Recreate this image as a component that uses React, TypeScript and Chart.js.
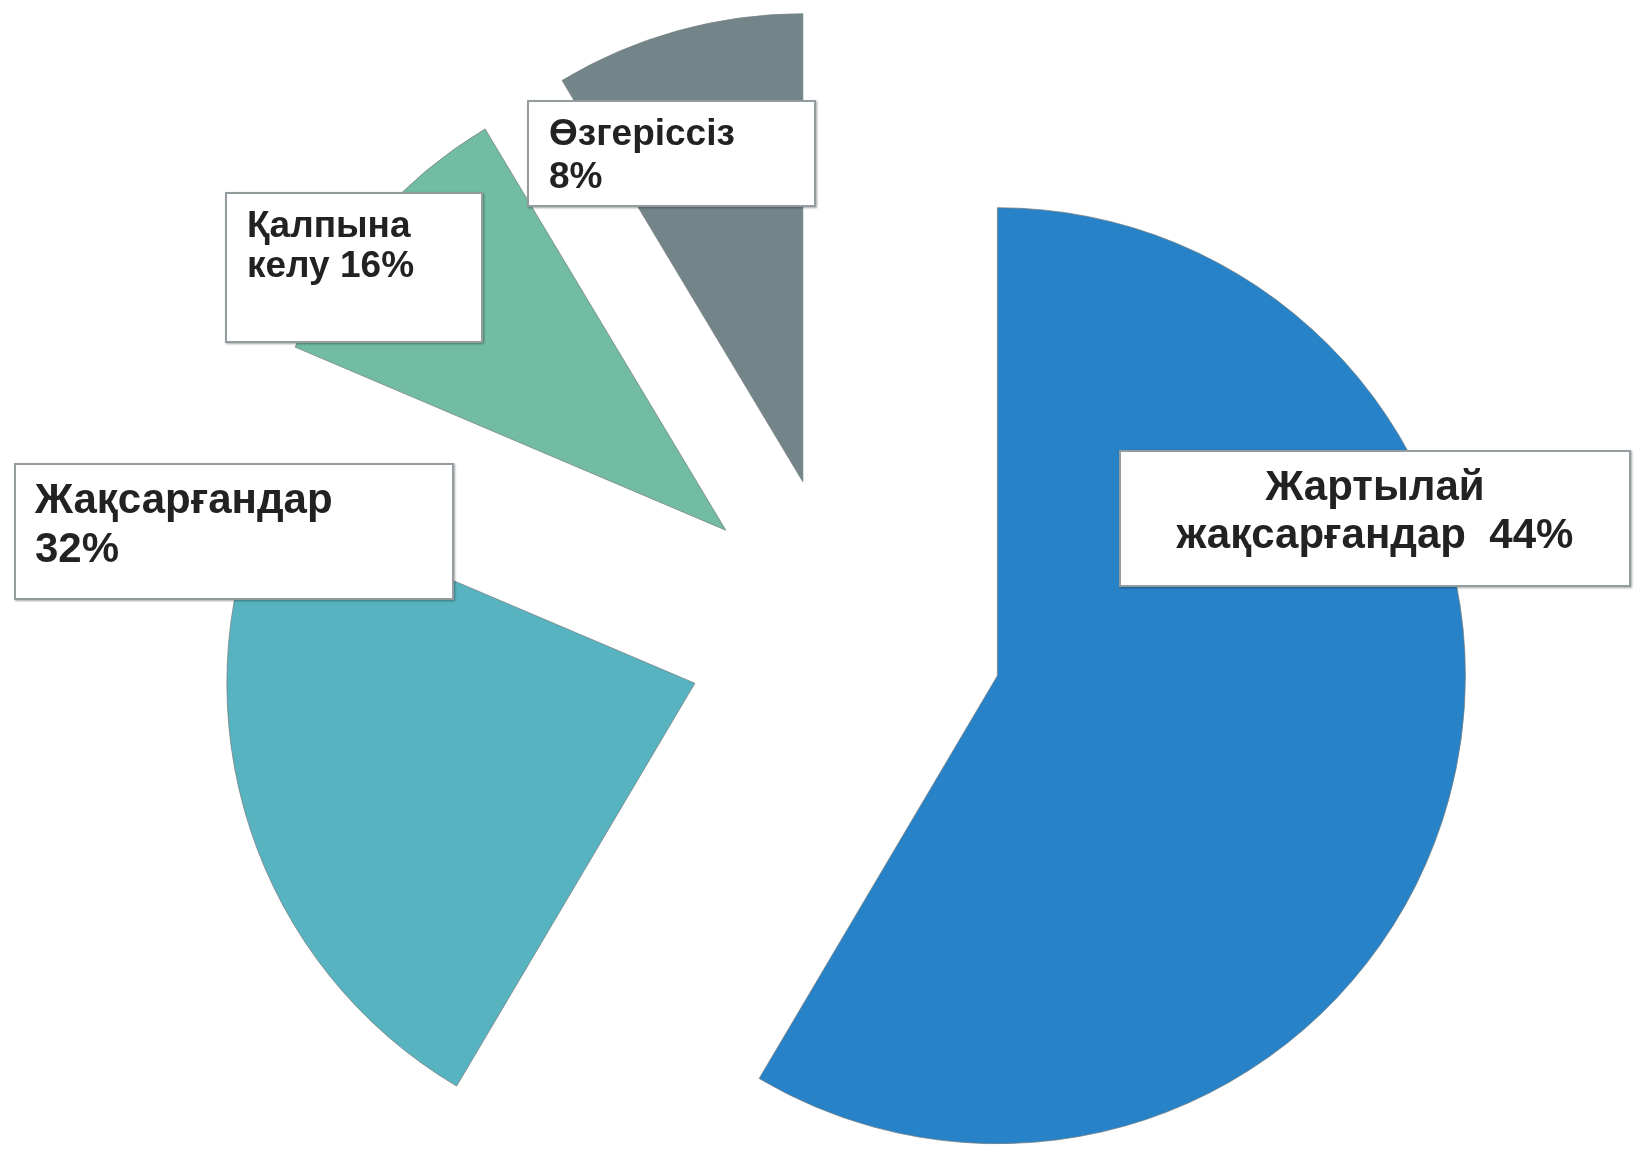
import React, { useEffect, useRef } from "react";
import { Chart, registerables } from "chart.js";

Chart.register(...registerables);

// Slice categories (clockwise from 12 o'clock)
const categories = ["Жартылай жақсарғандар", "Жақсарғандар", "Қалпына келу", "Өзгеріссіз"];
// Slice sizes as drawn in the picture (share of the full circle, %)
const sliceValues = [58.5, 22.9, 10.0, 8.6];
// Percentages printed in the labels
const labelPercents = [44, 32, 16, 8];
const sliceColors = ["#2882C7", "#57B3BF", "#71BCA3", "#738589"];

const EXPLODE_PX = 158;
const RADIUS_PX = 468;

const explodePlugin = {
  id: "explodeSlices",
  beforeDatasetDraw(chart: any, args: any) {
    args.meta.data.forEach((arc: any) => {
      if (arc.__exploded) return;
      const baseDraw = arc.draw.bind(arc);
      arc.draw = (ctx: CanvasRenderingContext2D, area: any) => {
        const mid = (arc.startAngle + arc.endAngle) / 2;
        ctx.save();
        ctx.translate(Math.cos(mid) * EXPLODE_PX, Math.sin(mid) * EXPLODE_PX);
        baseDraw(ctx, area);
        ctx.restore();
      };
      arc.__exploded = true;
    });
  },
};

const labelFont = '"Liberation Sans", Arial, sans-serif';

type Box = {
  left: number; top: number; width: number; height: number;
  lines: string[]; size: number; lineH: number; padL: number; padT: number; align: "left" | "center";
};

const boxes: Box[] = [
  { left: 1119, top: 450, width: 512, height: 137, lines: ["Жартылай", `жақсарғандар  ${labelPercents[0]}%`], size: 42, lineH: 48, padL: 0, padT: 10, align: "center" },
  { left: 14, top: 463, width: 440, height: 137, lines: ["Жақсарғандар", `${labelPercents[1]}%`], size: 42, lineH: 49, padL: 19, padT: 9, align: "left" },
  { left: 225, top: 192, width: 258, height: 151, lines: ["Қалпына", `келу ${labelPercents[2]}%`], size: 37, lineH: 40, padL: 20, padT: 11, align: "left" },
  { left: 527, top: 100, width: 289, height: 107, lines: ["Өзгеріссіз", `${labelPercents[3]}%`], size: 37, lineH: 43, padL: 20, padT: 9, align: "left" },
];

export default function App() {
  const canvasRef = useRef<HTMLCanvasElement | null>(null);

  useEffect(() => {
    const canvas = canvasRef.current;
    if (!canvas) return;
    const chart = new Chart(canvas, {
      type: "pie",
      data: {
        labels: categories,
        datasets: [
          {
            data: sliceValues,
            backgroundColor: sliceColors,
            borderColor: "rgba(115,125,130,0.75)",
            borderWidth: 1,
            radius: RADIUS_PX,
            clip: false,
          } as any,
        ],
      },
      options: {
        responsive: false,
        animation: false,
        layout: { padding: { left: 56, top: 115, right: 0, bottom: 0 } },
        plugins: {
          legend: { display: false },
          tooltip: { enabled: false },
        },
      } as any,
      plugins: [explodePlugin],
    });
    return () => chart.destroy();
  }, []);

  return (
    <div style={{ position: "absolute", left: 0, top: 0, width: 1634, height: 1153, background: "#ffffff", overflow: "hidden" }}>
      <canvas ref={canvasRef} width={1634} height={1153} style={{ display: "block", position: "absolute", left: 0, top: 0 }} />
      {boxes.map((b, i) => (
        <div
          key={i}
          style={{
            position: "absolute",
            left: b.left,
            top: b.top,
            width: b.width,
            height: b.height,
            boxSizing: "border-box",
            background: "#ffffff",
            border: "2px solid #939c9e",
            boxShadow: "1px 1px 2px rgba(0,0,0,0.35)",
            paddingLeft: b.padL,
            paddingTop: b.padT,
            textAlign: b.align,
            fontFamily: labelFont,
            fontWeight: "bold",
            fontSize: b.size,
            lineHeight: `${b.lineH}px`,
            color: "#222222",
            whiteSpace: "pre",
          }}
        >
          {b.lines.map((l, j) => (
            <div key={j}>{l}</div>
          ))}
        </div>
      ))}
    </div>
  );
}
